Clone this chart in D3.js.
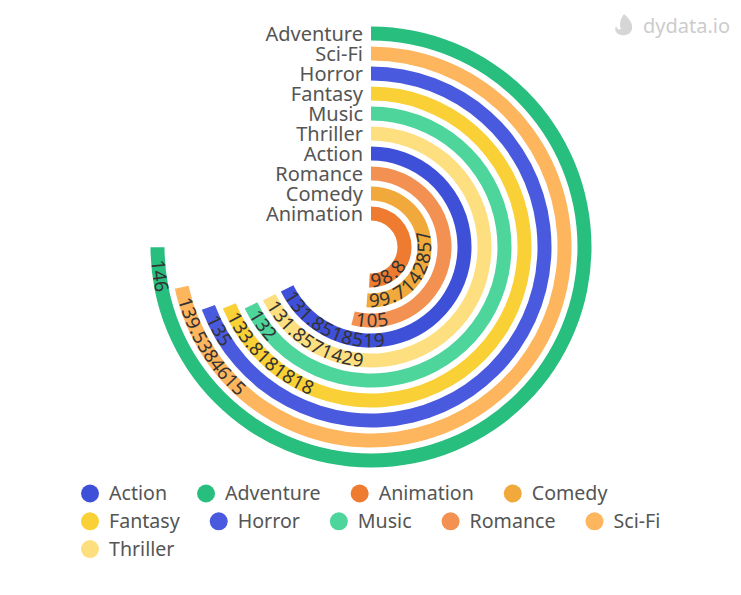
<!DOCTYPE html>
<html>
<head>
<meta charset="utf-8">
<script src="https://cdn.jsdelivr.net/npm/d3@7/dist/d3.min.js"></script>
<style>
  html, body { margin: 0; padding: 0; background: #fff; }
  svg { display: block; font-family: "Noto Sans", sans-serif; }
</style>
</head>
<body>
<svg id="chart" width="741" height="595"></svg>
<script>
// ---- data (inner ring first) ----
const categories = ["Animation", "Comedy", "Romance", "Action", "Thriller", "Music", "Fantasy", "Horror", "Sci-Fi", "Adventure"];
const values = [98.8, 99.7142857, 105, 131.8518519, 131.8571429, 132, 133.8181818, 135, 139.5384615, 146];
const valueLabels = ["98.8", "99.7142857", "105", "131.8518519", "131.8571429", "132", "133.8181818", "135", "139.5384615", "146"];
const legendOrder = ["Action", "Adventure", "Animation", "Comedy", "Fantasy", "Horror", "Music", "Romance", "Sci-Fi", "Thriller"];
const colors = {
  "Action": "#3e4fd8",
  "Adventure": "#27be7e",
  "Animation": "#ee7b30",
  "Comedy": "#f1a93b",
  "Fantasy": "#f9d035",
  "Horror": "#4a5ade",
  "Music": "#4dd59b",
  "Romance": "#f39152",
  "Sci-Fi": "#fdb55e",
  "Thriller": "#fedf80"
};
const angleMax = 194.7;

// ---- layout ----
const svg = d3.select("#chart");
const cx = 371, cy = 247;

const angle = d3.scaleLinear().domain([0, angleMax]).range([0, 2 * Math.PI]);
const radius = d3.scaleBand().domain(categories).range([23.5, 223.5]).paddingInner(0.3).paddingOuter(0.15);

const g = svg.append("g").attr("transform", `translate(${cx},${cy})`);

const arc = d3.arc()
  .innerRadius(d => radius(d.cat))
  .outerRadius(d => radius(d.cat) + radius.bandwidth())
  .startAngle(0)
  .endAngle(d => angle(d.value));

const rows = categories.map((c, i) => ({ cat: c, value: values[i], label: valueLabels[i], i }));

g.selectAll("path.bar").data(rows).enter().append("path")
  .attr("class", "bar")
  .attr("d", arc)
  .attr("fill", d => colors[d.cat]);

// label paths: from end of bar back to start (counter-clockwise), mid radius
function pt(r, a) { return [cx + r * Math.sin(a), cy - r * Math.cos(a)]; }
const defs = svg.append("defs");
rows.forEach(d => {
  const r = radius(d.cat) + radius.bandwidth() / 2;
  const a1 = angle(d.value);
  const p1 = pt(r, a1), p0 = pt(r, 0.0001);
  const large = a1 > Math.PI ? 1 : 0;
  defs.append("path")
    .attr("id", "lp" + d.i)
    .attr("d", `M${p1[0]},${p1[1]} A${r},${r} 0 ${large} 0 ${p0[0]},${p0[1]}`);
});

svg.selectAll("text.vlabel").data(rows).enter().append("text")
  .attr("class", "vlabel")
  .attr("font-size", 18.8)
  .attr("fill", "#333")
  .attr("dy", "0.35em")
  .append("textPath")
  .attr("href", d => "#lp" + d.i)
  .attr("startOffset", "1.25%")
  .text(d => d.label);

// category axis labels
g.selectAll("text.cat").data(categories).enter().append("text")
  .attr("class", "cat")
  .attr("x", -8)
  .attr("y", d => -(radius(d) + radius.bandwidth() / 2))
  .attr("dy", "0.35em")
  .attr("text-anchor", "end")
  .attr("font-size", 20)
  .attr("fill", "#555")
  .text(d => d);

// ---- legend ----
const legend = svg.append("g");
let lx = 90, ly = 493.5;
const rowH = 27.8, maxX = 700;
legendOrder.forEach(name => {
  const item = legend.append("g");
  const t = item.append("text")
    .attr("font-size", 19.6)
    .attr("fill", "#555")
    .attr("dy", "0.35em")
    .text(name);
  const w = t.node().getComputedTextLength();
  if (lx + 19 + w > maxX) { lx = 90; ly += rowH; }
  item.append("circle").attr("cx", lx).attr("cy", ly).attr("r", 9).attr("fill", colors[name]);
  t.attr("x", lx + 19).attr("y", ly);
  lx = lx + 19 + w + 39;
});

// ---- watermark ----
const wm = svg.append("g");
wm.append("path")
  .attr("d", "M624,14 C630,19 633,24 632,29 C631,34 626,36 621,35 C616,34 614,30 616,26 C617,29 619,30 621,29 C619,25 620,19 624,14 Z")
  .attr("fill", "#d6d6d6");
wm.append("text")
  .attr("x", 643).attr("y", 26).attr("dy", "0.35em")
  .attr("font-size", 20)
  .attr("fill", "#cccccc")
  .text("dydata.io");
</script>
</body>
</html>
